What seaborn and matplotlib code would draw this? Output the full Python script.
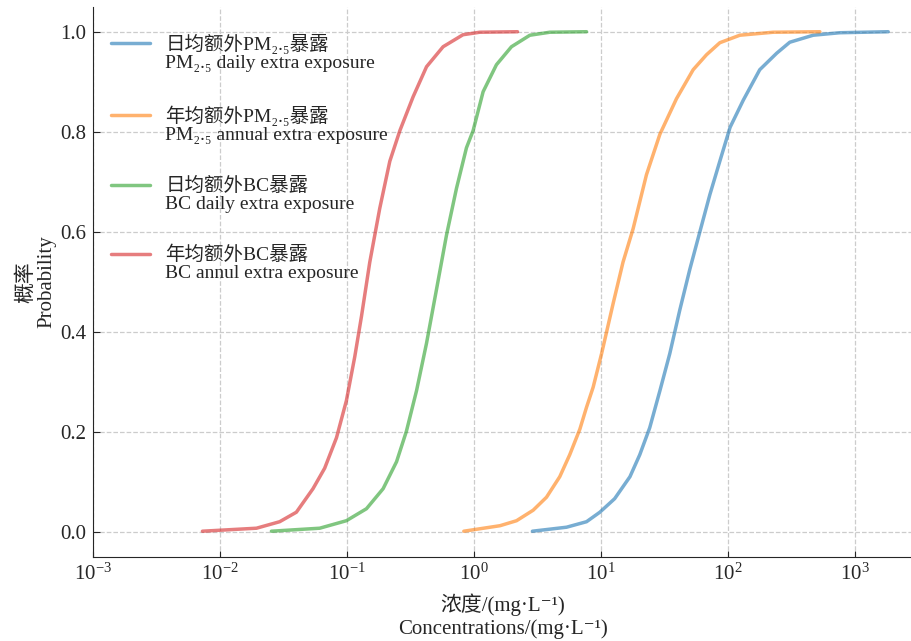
import numpy as np
import pandas as pd
import matplotlib
matplotlib.use('Agg')
import matplotlib.pyplot as plt
import seaborn as sns

# CDF curves (concentration, probability)
pm_daily_x = [2.88, 5.35, 7.69, 9.79, 12.8, 16.9, 20.2, 24.2, 29.1, 34.8, 41.8, 50.1,
              60.1, 72.0, 86.3, 104, 132, 178, 242, 307, 469, 762, 1830]
pm_daily_y = [0.001, 0.009, 0.02, 0.039, 0.066, 0.11, 0.154, 0.208, 0.282, 0.356, 0.444, 0.525,
              0.60, 0.674, 0.741, 0.809, 0.863, 0.924, 0.957, 0.979, 0.993, 0.998, 1.0]

pm_annual_x = [0.83, 1.60, 2.16, 2.92, 3.72, 4.73, 5.67, 6.81, 7.69, 8.67, 10.1, 12.5,
               14.9, 17.9, 22.8, 29.1, 39.3, 53.2, 67.8, 86.3, 124, 227, 530]
pm_annual_y = [0.001, 0.012, 0.022, 0.043, 0.069, 0.11, 0.154, 0.205, 0.249, 0.289, 0.356, 0.458,
               0.539, 0.606, 0.714, 0.795, 0.866, 0.924, 0.954, 0.978, 0.993, 0.999, 1.0]

bc_daily_x = [0.0253, 0.0608, 0.0986, 0.142, 0.192, 0.245, 0.293, 0.352, 0.422, 0.506, 0.606,
              0.727, 0.871, 0.982, 1.178, 1.50, 1.97, 2.75, 3.95, 7.69]
bc_daily_y = [0.001, 0.007, 0.022, 0.046, 0.086, 0.14, 0.201, 0.282, 0.377, 0.485, 0.593,
              0.687, 0.768, 0.802, 0.88, 0.934, 0.970, 0.993, 0.999, 1.0]

bc_annual_x = [0.00724, 0.0193, 0.0294, 0.0398, 0.0538, 0.0665, 0.0824, 0.0986, 0.1148, 0.1297,
               0.1507, 0.1807, 0.2168, 0.260, 0.331, 0.422, 0.570, 0.818, 1.109, 2.198]
bc_annual_y = [0.001, 0.007, 0.02, 0.039, 0.086, 0.127, 0.188, 0.262, 0.35, 0.431,
               0.539, 0.647, 0.741, 0.802, 0.87, 0.93, 0.97, 0.994, 0.999, 1.0]

labels = ['日均额外PM₂.₅暴露\nPM₂.₅ daily extra exposure',
          '年均额外PM₂.₅暴露\nPM₂.₅ annual extra exposure',
          '日均额外BC暴露\nBC daily extra exposure',
          '年均额外BC暴露\nBC annul extra exposure']

series = [(pm_daily_x, pm_daily_y), (pm_annual_x, pm_annual_y),
          (bc_daily_x, bc_daily_y), (bc_annual_x, bc_annual_y)]

frames = []
for lab, (xs, ys) in zip(labels, series):
    frames.append(pd.DataFrame({'conc': xs, 'prob': ys, 'series': lab}))
df = pd.concat(frames, ignore_index=True)

sns.set_style('ticks')
plt.rcParams['font.family'] = ['Liberation Serif', 'Noto Sans CJK SC', 'DejaVu Serif']
plt.rcParams['mathtext.fontset'] = 'stix'
plt.rcParams['axes.unicode_minus'] = False

fig = plt.figure(figsize=(9.12, 6.41), dpi=100)
ax = fig.add_axes([0.1023, 0.1315, 0.8977, 0.858])

sns.lineplot(data=df, x='conc', y='prob', hue='series', hue_order=labels,
             palette=['#1f77b4', '#ff7f0e', '#2ca02c', '#d62728'],
             sort=False, estimator=None, linewidth=2.5, alpha=0.6, ax=ax)

ax.set_xscale('log')
ax.set_xlim(1e-3, 10 ** 3.45)
ax.set_ylim(-0.05, 1.05)
ax.minorticks_off()
ax.set_xticks([1e-3, 1e-2, 1e-1, 1e0, 1e1, 1e2, 1e3])
ax.set_yticks([0.0, 0.2, 0.4, 0.6, 0.8, 1.0])
ax.set_yticklabels(['0.0', '0.2', '0.4', '0.6', '0.8', '1.0'])
ax.tick_params(axis='x', direction='in', labelsize=15, length=4, pad=5)
ax.tick_params(axis='y', direction='in', labelsize=15, length=5, pad=5)
ax.grid(True, linestyle='--', color='#cccccc', linewidth=0.9)
for s in ['top', 'right']:
    ax.spines[s].set_visible(False)

ax.set_xlabel('浓度/(mg·L⁻¹)\nConcentrations/(mg·L⁻¹)', fontsize=15, linespacing=1.25, labelpad=6)
ax.set_ylabel('概率\nProbability', fontsize=15, linespacing=1.05, labelpad=3)

leg = ax.legend(loc='upper left', frameon=False, fontsize=14, labelspacing=1.68,
                handlelength=2.0, bbox_to_anchor=(0.0, 0.982))
for t in leg.get_texts():
    t.set_linespacing(1.1)
for line in leg.get_lines():
    line.set_linewidth(2.5)
    line.set_ydata(np.asarray(line.get_ydata()) + 7)

fig.savefig('out.png', dpi=100)
